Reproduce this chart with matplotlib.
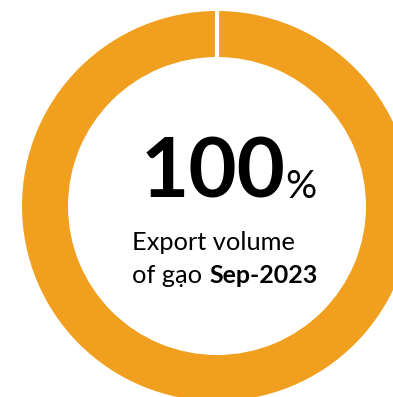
import matplotlib.pyplot as plt

# data
shares = [100]
share_label = "100"
line1 = "Export volume"
line2_regular = "of gạo "
line2_bold = "Sep-2023"

W, H = 393, 397
ring_color = '#F19F1F'

fig = plt.figure(figsize=(W / 100, H / 100), dpi=100)
ax = fig.add_axes([0, 0, 1, 1])

# donut (center / radius in pixel units)
cx, cy = 217, H - 206
r_out, ring_w = 195, 46
ax.pie(shares, radius=r_out, center=(cx, cy), startangle=90, counterclock=False,
       colors=[ring_color], wedgeprops=dict(width=ring_w, edgecolor='none'))
# white seam where the ring starts
ax.plot([cx, cx], [cy + r_out - ring_w - 2, cy + r_out + 2], color='white',
        lw=3, solid_capstyle='butt')
ax.set_xlim(0, W)
ax.set_ylim(0, H)
ax.set_aspect('equal')
ax.axis('off')

font = 'Lato'
ax.text(141, H - 198, share_label, fontsize=60, fontweight='bold', family=font,
        ha='left', va='baseline', color='black')
ax.text(285, H - 198, '%', fontsize=28, family=font,
        ha='left', va='baseline', color='black')
ax.text(132, H - 250, line1, fontsize=18.3, family=font,
        ha='left', va='baseline', color='black')
ax.text(132, H - 283, line2_regular, fontsize=18.3, family=font,
        ha='left', va='baseline', color='black')
ax.text(209, H - 283, line2_bold, fontsize=18, fontweight='bold', family=font,
        ha='left', va='baseline', color='black')

fig.savefig('out.png', dpi=100)
